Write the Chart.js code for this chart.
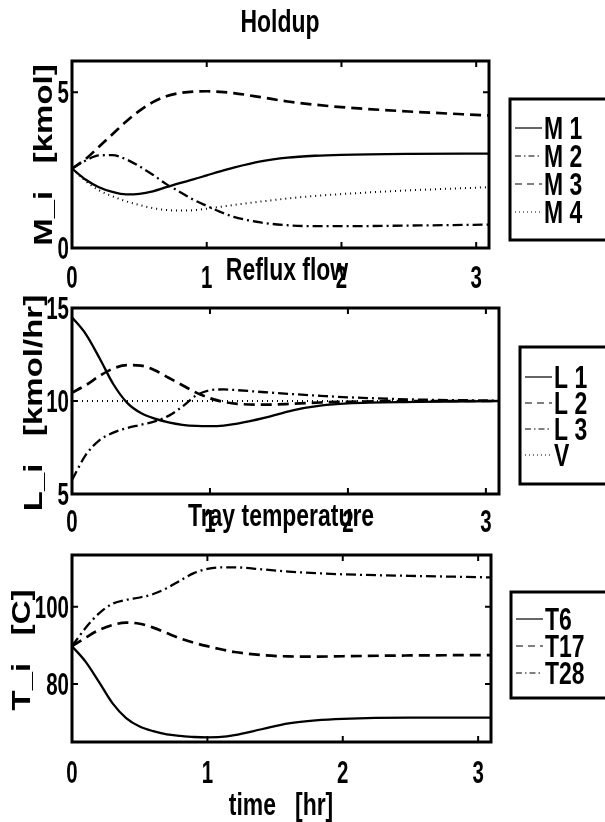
<!DOCTYPE html>
<html>
<head>
<meta charset="utf-8">
<script src="https://cdn.jsdelivr.net/npm/chart.js@4.4.1/dist/chart.umd.min.js"></script>
<style>
  html, body { margin: 0; padding: 0; background: #fff; }
  #wrap { position: relative; width: 605px; height: 822px; overflow: hidden; }
  canvas { position: absolute; left: 0; top: 0; }
</style>
</head>
<body>
<div id="wrap">
  <canvas id="holdup" width="605" height="822"></canvas>
  <canvas id="reflux" width="605" height="822"></canvas>
  <canvas id="temp" width="605" height="822"></canvas>
</div>
<script>
// time axis shared by every series [hr]
const timeHr = [0, 0.1, 0.2, 0.3, 0.4, 0.5, 0.6, 0.7, 0.8, 0.9, 1.0, 1.1, 1.2, 1.4, 1.6, 1.8, 2.0, 2.5, 3.1];

// holdup [kmol]
const holdM1 = [2.55, 2.2, 1.95, 1.8, 1.72, 1.74, 1.82, 1.95, 2.08, 2.2, 2.33, 2.46, 2.58, 2.78, 2.9, 2.96, 2.99, 3.02, 3.03];
const holdM2 = [2.55, 2.8, 2.97, 2.98, 2.85, 2.62, 2.35, 2.05, 1.8, 1.55, 1.35, 1.16, 1.0, 0.82, 0.73, 0.70, 0.70, 0.72, 0.75];
const holdM3 = [2.55, 2.85, 3.25, 3.65, 4.05, 4.4, 4.68, 4.87, 4.97, 5.02, 5.03, 5.01, 4.97, 4.84, 4.7, 4.6, 4.52, 4.38, 4.25];
const holdM4 = [2.55, 2.15, 1.85, 1.66, 1.5, 1.38, 1.28, 1.22, 1.2, 1.21, 1.26, 1.32, 1.38, 1.49, 1.59, 1.67, 1.73, 1.85, 1.95];

// reflux flow [kmol/hr]
const flowL1 = [14.5, 13.6, 12.3, 10.9, 9.9, 9.35, 9.05, 8.85, 8.72, 8.66, 8.65, 8.68, 8.78, 9.1, 9.5, 9.75, 9.87, 9.95, 10.0];
const flowL2 = [10.45, 10.85, 11.35, 11.75, 11.93, 11.9, 11.65, 11.25, 10.85, 10.45, 10.15, 9.95, 9.85, 9.8, 9.85, 9.92, 9.96, 10.0, 10.0];
const flowL3 = [5.75, 7.1, 7.9, 8.3, 8.55, 8.72, 8.9, 9.2, 9.7, 10.3, 10.58, 10.62, 10.58, 10.47, 10.37, 10.28, 10.2, 10.08, 10.02];
const flowV  = [10, 10, 10, 10, 10, 10, 10, 10, 10, 10, 10, 10, 10, 10, 10, 10, 10, 10, 10];

// tray temperature [C]
const tempT6  = [89.8, 85.8, 80.5, 75.0, 71.2, 69.0, 67.8, 67.0, 66.6, 66.3, 66.2, 66.3, 66.8, 68.3, 69.8, 70.6, 71.0, 71.3, 71.3];
const tempT17 = [89.8, 92.0, 94.0, 95.3, 95.9, 95.6, 94.6, 93.2, 91.8, 90.7, 89.8, 89.0, 88.3, 87.5, 87.15, 87.1, 87.2, 87.4, 87.5];
const tempT28 = [89.8, 94.5, 98.3, 100.8, 101.8, 102.4, 103.3, 104.8, 106.8, 108.7, 109.8, 110.2, 110.2, 109.7, 109.1, 108.7, 108.4, 108.0, 107.6];

const holdLabels = ['M 1', 'M 2', 'M 3', 'M 4'];
const flowLabels = ['L 1', 'L 2', 'L 3', 'V'];
const tempLabels = ['T6', 'T17', 'T28'];

// line styles: plot dash, legend dash, width
const SOLID = { dash: [], legDash: [], width: 2.3 };
const DASH = { dash: [11, 6], legDash: [7, 5], width: 2.7 };
const DASHDOT = { dash: [10, 4, 2, 4], legDash: [6, 3, 1.5, 3], width: 2.3 };
const DOT = { dash: [1, 4], legDash: [1, 3], width: 2 };

const TXT = '"Liberation Sans", Arial, sans-serif';

function toPoints(ys) {
  return timeHr.map((t, i) => ({ x: t, y: ys[i] }));
}

function makeSet(label, ys, style) {
  return {
    label: label,
    data: toPoints(ys),
    borderColor: '#000',
    borderWidth: style.width,
    borderDash: style.dash,
    legDash: style.legDash,
    pointRadius: 0,
    cubicInterpolationMode: 'monotone',
    fill: false
  };
}

// squeezed text, the original figure is narrow
function squeezed(ctx, text, x, y, size, rotate, align, sx) {
  ctx.save();
  ctx.translate(x, y);
  if (rotate) {
    ctx.rotate(-Math.PI / 2);
    ctx.scale(1, 0.78);
  } else {
    ctx.scale(sx || 0.74, 1);
  }
  ctx.font = 'bold ' + size + 'px ' + TXT;
  ctx.fillStyle = '#000';
  ctx.textAlign = align || 'center';
  ctx.textBaseline = 'alphabetic';
  ctx.fillText(text, 0, 0);
  ctx.restore();
}

const matlabLook = {
  id: 'matlabLook',
  afterDraw(chart, args, o) {
    const ctx = chart.ctx;
    const a = chart.chartArea;
    const xs = chart.scales.x, ys = chart.scales.y;
    ctx.save();
    ctx.strokeStyle = '#000';
    ctx.setLineDash([]);
    // inward ticks on all four sides, labels from the scale ticks
    ctx.lineWidth = 2;
    ctx.beginPath();
    xs.ticks.forEach(t => {
      const px = xs.getPixelForValue(t.value);
      ctx.moveTo(px, a.bottom); ctx.lineTo(px, a.bottom - 6);
      ctx.moveTo(px, a.top); ctx.lineTo(px, a.top + 6);
    });
    ys.ticks.forEach(t => {
      const py = ys.getPixelForValue(t.value);
      ctx.moveTo(a.left, py); ctx.lineTo(a.left + 6, py);
      ctx.moveTo(a.right, py); ctx.lineTo(a.right - 6, py);
    });
    ctx.stroke();
    ctx.lineWidth = 3;
    ctx.strokeRect(a.left, a.top, a.right - a.left, a.bottom - a.top);

    xs.ticks.forEach(t => {
      squeezed(ctx, String(t.value), xs.getPixelForValue(t.value), o.xTickY, 32, false, 'center', 0.64);
    });
    ys.ticks.forEach(t => {
      squeezed(ctx, String(t.value), a.left - 3, ys.getPixelForValue(t.value) + 11, 32, false, 'right', 0.64);
    });

    // title + axis labels
    squeezed(ctx, o.title, o.titleX, o.titleY, 31, false);
    squeezed(ctx, o.ylabel, o.ylabelX, o.ylabelY, 33, true);
    if (o.xlabel) squeezed(ctx, o.xlabel, o.xlabelX, o.xlabelY, 31, false);

    // legend box
    const L = o.legend;
    ctx.lineWidth = 3;
    ctx.strokeRect(L.x, L.y, 620 - L.x, L.h);
    chart.data.datasets.forEach((ds, i) => {
      const ry = L.row0 + i * L.step;
      ctx.lineWidth = 1.2;
      ctx.setLineDash(ds.legDash);
      ctx.beginPath();
      ctx.moveTo(L.x + 5, ry);
      ctx.lineTo(L.x + 32, ry);
      ctx.stroke();
      ctx.setLineDash([]);
      squeezed(ctx, ds.label, L.x + 34, ry + 11, 31, false, 'left');
    });
    ctx.restore();
  }
};

function makeChart(id, datasets, area, yRange, deco) {
  return new Chart(document.getElementById(id), {
    type: 'line',
    data: { datasets: datasets },
    plugins: [matlabLook],
    options: {
      responsive: false,
      animation: false,
      devicePixelRatio: 1,
      layout: {
        padding: { left: area.left - 60, top: area.top, right: 605 - area.right, bottom: 822 - area.bottom - 50 }
      },
      plugins: {
        legend: { display: false },
        tooltip: { enabled: false },
        matlabLook: deco
      },
      scales: {
        x: {
          type: 'linear',
          min: 0,
          max: 3.095,
          grid: { display: false, drawTicks: false, tickLength: 0 },
          border: { display: false },
          afterFit: (s) => { s.height = 50; },
          ticks: { stepSize: 1, includeBounds: false, display: false }
        },
        y: {
          min: yRange[0],
          max: yRange[1],
          grid: { display: false, drawTicks: false, tickLength: 0 },
          border: { display: false },
          afterFit: (s) => { s.width = 60; },
          ticks: { stepSize: yRange[2], includeBounds: false, display: false }
        }
      }
    }
  });
}

makeChart('holdup', [
  makeSet(holdLabels[0], holdM1, SOLID),
  makeSet(holdLabels[1], holdM2, DASHDOT),
  makeSet(holdLabels[2], holdM3, DASH),
  makeSet(holdLabels[3], holdM4, DOT)
], { left: 72, top: 61, right: 489, bottom: 248 }, [0, 6, 5], {
  title: 'Holdup', titleX: 280, titleY: 32, xTickY: 288,
  ylabel: 'M_i   [kmol]', ylabelX: 52, ylabelY: 155,
  legend: { x: 510, y: 99, h: 141, row0: 128, step: 28 }
});

makeChart('reflux', [
  makeSet(flowLabels[0], flowL1, SOLID),
  makeSet(flowLabels[1], flowL2, DASH),
  makeSet(flowLabels[2], flowL3, DASHDOT),
  makeSet(flowLabels[3], flowV, DOT)
], { left: 72, top: 308, right: 499, bottom: 494 }, [5, 15, 5], {
  title: 'Reflux flow', titleX: 287, titleY: 280, xTickY: 532,
  ylabel: 'L_i   [kmol/hr]', ylabelX: 42, ylabelY: 403,
  legend: { x: 520, y: 347, h: 137, row0: 377, step: 26 }
});

makeChart('temp', [
  makeSet(tempLabels[0], tempT6, SOLID),
  makeSet(tempLabels[1], tempT17, DASH),
  makeSet(tempLabels[2], tempT28, DASHDOT)
], { left: 72, top: 555, right: 491, bottom: 742 }, [65, 113.4, 20], {
  title: 'Tray temperature', titleX: 281, titleY: 526, xTickY: 783,
  ylabel: 'T_i   [C]', ylabelX: 30, ylabelY: 650,
  xlabel: 'time   [hr]', xlabelX: 281, xlabelY: 815,
  legend: { x: 511, y: 592, h: 106, row0: 619, step: 27 }
});
</script>
</body>
</html>
